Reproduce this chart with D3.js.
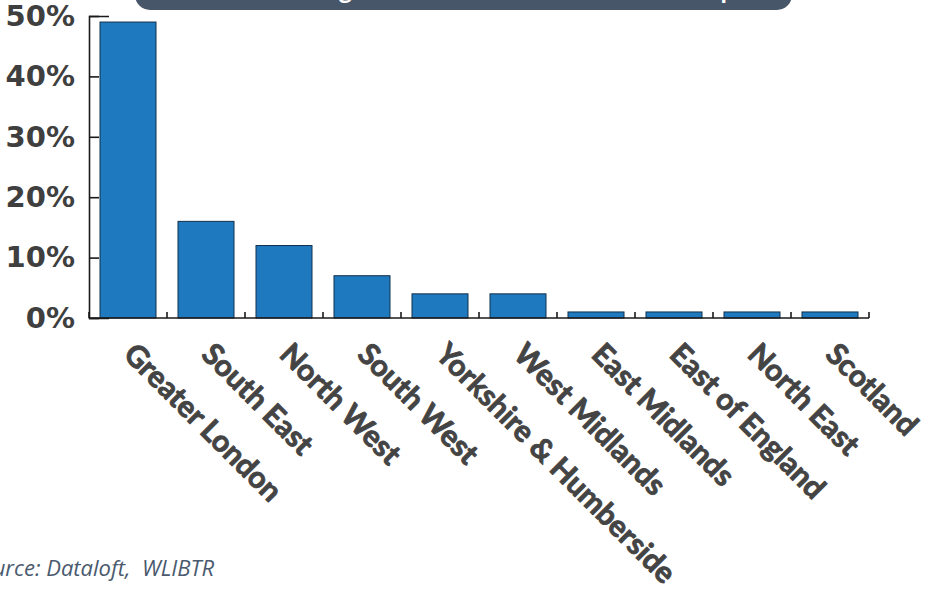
<!DOCTYPE html>
<html>
<head>
<meta charset="utf-8">
<script src="https://cdn.jsdelivr.net/npm/d3@7"></script>
<style>
  html, body { margin: 0; padding: 0; background: #ffffff; }
  svg { display: block; }
</style>
</head>
<body>
<svg id="chart" width="928" height="589"></svg>
<script>
// ---- data ----
const categories = ["Greater London", "South East", "North West", "South West",
  "Yorkshire & Humberside", "West Midlands", "East Midlands", "East of England",
  "North East", "Scotland"];
const values = [49, 16, 12, 7, 4, 4, 1, 1, 1, 1];
const yTicks = [0, 10, 20, 30, 40, 50];
const yTickLabels = ["0%", "10%", "20%", "30%", "40%", "50%"];
const titleText = "Regional share of landlord ownership";
const sourceText = "Source: Dataloft,  WLIBTR";

(function () {
const svg = d3.select("#chart");
const plotL = 89, plotR = 869, plotT = 16, plotB = 318;

const x = d3.scaleBand().domain(categories).range([plotL, plotR])
  .paddingInner(0.282).paddingOuter(0.141);
const y = d3.scaleLinear().domain([0, 50]).range([plotB, plotT]);

// title banner (cut off at top)
svg.append("rect")
  .attr("x", 135).attr("y", -40).attr("width", 657).attr("height", 50)
  .attr("rx", 15).attr("ry", 15)
  .attr("fill", "#475669");
svg.append("text")
  .attr("x", 522).attr("y", -1)
  .attr("text-anchor", "middle")
  .attr("font-family", "Lato, sans-serif")
  .attr("font-weight", "bold")
  .attr("font-size", 26)
  .attr("fill", "#ffffff")
  .text(titleText);

// bars
svg.append("g").selectAll("rect")
  .data(categories)
  .join("rect")
  .attr("x", d => x(d))
  .attr("y", (d, i) => y(values[i]))
  .attr("width", x.bandwidth())
  .attr("height", (d, i) => y(0) - y(values[i]))
  .attr("fill", "#1f79bf")
  .attr("stroke", "#12304a")
  .attr("stroke-width", 1);

// y axis
const yAxis = d3.axisLeft(y)
  .tickValues(yTicks)
  .tickFormat((d, i) => yTickLabels[i])
  .tickSizeInner(-10)
  .tickSizeOuter(-20)
  .tickPadding(14);
const gy = svg.append("g")
  .attr("transform", `translate(${plotL},0)`)
  .call(yAxis);
gy.select(".domain").attr("stroke", "#1a1a1a").attr("stroke-width", 1.6);
gy.selectAll(".tick line").attr("stroke", "#1a1a1a").attr("stroke-width", 1.6);
gy.selectAll(".tick text")
  .attr("font-family", "DejaVu Sans, sans-serif")
  .attr("font-weight", "bold")
  .attr("font-size", 29)
  .attr("fill", "#3f3f3f");

// x axis (line plus ticks at band boundaries)
const step = x.step();
const gap = step - x.bandwidth();
const boundaries = categories.map(d => x(d) - gap / 2)
  .concat([x(categories[categories.length - 1]) + x.bandwidth() + gap / 2]);
const gx = svg.append("g");
gx.append("line")
  .attr("x1", plotL).attr("x2", plotR)
  .attr("y1", y(0)).attr("y2", y(0))
  .attr("stroke", "#1a1a1a").attr("stroke-width", 1.6);
gx.selectAll("line.tk")
  .data(boundaries)
  .join("line")
  .attr("class", "tk")
  .attr("x1", d => d).attr("x2", d => d)
  .attr("y1", y(0)).attr("y2", y(0) - 6)
  .attr("stroke", "#1a1a1a").attr("stroke-width", 1.6);

// category labels
gx.selectAll("text")
  .data(categories)
  .join("text")
  .attr("transform", d => `translate(${x(d) + x.bandwidth() / 2 - 6},${356}) rotate(45)`)
  .attr("text-anchor", "start")
  .attr("font-family", "Lato, sans-serif")
  .attr("font-weight", "bold")
  .attr("font-size", 30)
  .attr("fill", "#444444")
  .attr("stroke", "#444444")
  .attr("stroke-width", 0.9)
  .attr("stroke-linejoin", "round")
  .text(d => d);

// source
svg.append("text")
  .attr("x", 214).attr("y", 576)
  .attr("text-anchor", "end")
  .attr("font-family", "Open Sans, sans-serif")
  .attr("font-style", "italic")
  .attr("font-size", 22)
  .attr("fill", "#4a5a6e")
  .style("white-space", "pre")
  .text(sourceText);
})();
</script>
</body>
</html>
